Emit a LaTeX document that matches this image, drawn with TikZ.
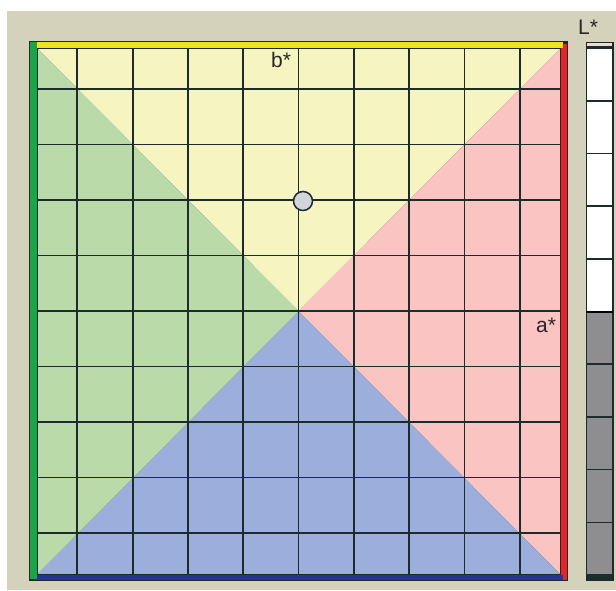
\documentclass[tikz,border=0pt]{standalone}
\usepackage{fontspec}
\setsansfont{Liberation Sans}
\usetikzlibrary{calc}

\definecolor{panelbg}{HTML}{D5D2BC}
\definecolor{griddark}{HTML}{1C2B2B}
\definecolor{quadyellow}{HTML}{F6F4C1}
\definecolor{quadpink}{HTML}{F9C4C2}
\definecolor{quadblue}{HTML}{9CAEDC}
\definecolor{quadgreen}{HTML}{BADBA9}
\definecolor{edgeyellow}{HTML}{F2E21C}
\definecolor{edgered}{HTML}{E5242A}
\definecolor{edgeblue}{HTML}{26339A}
\definecolor{edgegreen}{HTML}{1BA544}
\definecolor{markergray}{HTML}{D4D4DA}
\definecolor{lightgray}{HTML}{8E8E90}
\definecolor{lightcap}{HTML}{F4D6D6}

\begin{document}
\begin{tikzpicture}[
        x=1pt, y=-1pt,
        axislabel/.style={
            font=\sffamily\fontsize{21}{21}\selectfont,
            text=black!85,
            inner sep=0pt
        },
        gridline/.style={draw=griddark, line width=1.8pt},
        marker/.style={
            circle,
            draw=griddark,
            line width=1.5pt,
            fill=markergray,
            minimum size=19pt,
            inner sep=0pt
        }
    ]
        \useasboundingbox (0,0) rectangle (616,590);

        % Panel background
        \fill[white] (0,0) rectangle (616,590);
        \fill[panelbg] (7,11) rectangle (616,590);

        % Colour frame
        \fill[griddark] (29,41) rectangle (568,581);
        \fill[edgered] (560.5,44) rectangle (566.8,579.8);
        \fill[edgeyellow] (31,42.3) rectangle (563,48);
        \fill[edgeblue] (34,574.5) rectangle (563,579.8);
        \fill[edgegreen] (30.3,42.3) rectangle (36.8,578.5);

        % a*b* plane quadrants
        \coordinate (tl) at (37,48);
        \coordinate (tr) at (560.5,48);
        \coordinate (br) at (560.5,574.5);
        \coordinate (bl) at (37,574.5);
        \coordinate (mid) at (298.5,311);
        \fill[quadyellow] (tl) -- (tr) -- (mid) -- cycle;
        \fill[quadpink] (tr) -- (br) -- (mid) -- cycle;
        \fill[quadblue] (br) -- (bl) -- (mid) -- cycle;
        \fill[quadgreen] (bl) -- (tl) -- (mid) -- cycle;

        % Grid
        \foreach \k in {-4,...,4} {
            \draw[gridline] ({298.5+55.3*\k},48) -- ({298.5+55.3*\k},574.5);
            \draw[gridline] (37,{311+55.5*\k}) -- (560.5,{311+55.5*\k});
        }
        \draw[griddark, line width=0.8pt] (tl) rectangle (br);

        % Current colour and axis labels
        \node[marker] (current) at (303,201) {};
        \node[axislabel] (bstar) at (281,60) {b*};
        \node[axislabel] (astar) at (546,325) {a*};
        \node[axislabel] (lstar) at (588,27) {L*};

        % Lightness bar
        \fill[griddark] (585.5,41.5) rectangle (613.5,580.5);
        \fill[lightcap] (587,43) rectangle (612,45.5);
        \foreach \i in {0,...,9} {
            \pgfmathsetmacro{\ytop}{48+52.7*\i}
            \ifnum\i<5
                \fill[white] (587,\ytop+0.8) rectangle (612,\ytop+51.9);
            \else
                \fill[lightgray] (587,\ytop+0.8) rectangle (612,\ytop+51.9);
            \fi
        }
        \draw[black, line width=2pt] (586,311.5) -- (613,311.5);
    \end{tikzpicture}
\end{document}
